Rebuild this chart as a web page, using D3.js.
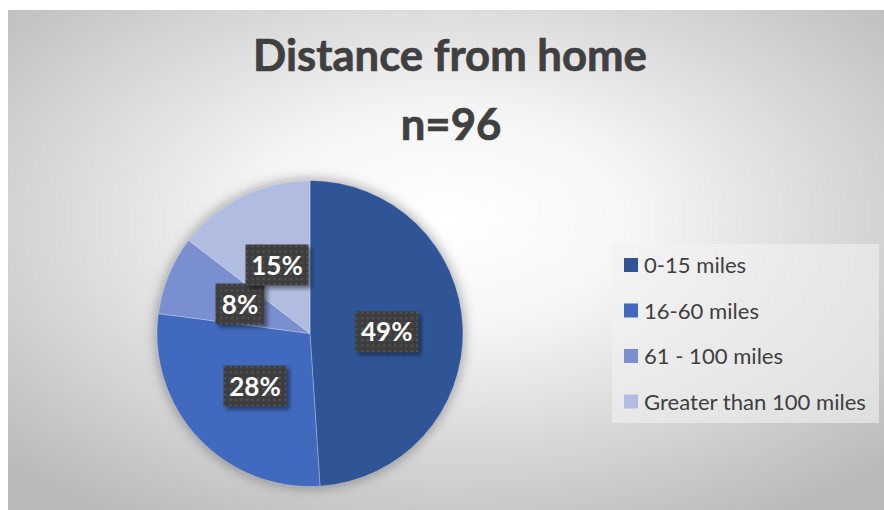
<!DOCTYPE html>
<html>
<head>
<meta charset="utf-8">
<script src="https://cdn.jsdelivr.net/npm/d3@7"></script>
<style>
  html, body { margin: 0; padding: 0; background: #ffffff; }
  svg { display: block; }
</style>
</head>
<body>
<svg id="chart" width="884" height="510"></svg>
<script>
// ---- data ----
const titleLines = ["Distance from home", "n=96"];
const categories = ["0-15 miles", "16-60 miles", "61 - 100 miles", "Greater than 100 miles"];
const counts = [47, 27, 8, 14];
const percentLabels = ["49%", "28%", "8%", "15%"];
const colors = ["#2F5597", "#4169BD", "#7A8FD0", "#B1BDE0"];

// ---- layout ----
const svg = d3.select("#chart");
const defs = svg.append("defs");
const FONT = "Lato, 'Open Sans', 'DejaVu Sans', sans-serif";
const TEXT = "#404040";

const bg = defs.append("radialGradient").attr("id", "bg")
  .attr("cx", 0.5).attr("cy", 0.42).attr("r", 0.7);
bg.append("stop").attr("offset", 0).attr("stop-color", "#ffffff");
bg.append("stop").attr("offset", 0.3).attr("stop-color", "#f6f6f6");
bg.append("stop").attr("offset", 1).attr("stop-color", "#bababa");

const pieShadow = defs.append("filter").attr("id", "pieShadow")
  .attr("x", -0.2).attr("y", -0.2).attr("width", 1.4).attr("height", 1.4);
pieShadow.append("feGaussianBlur").attr("stdDeviation", 6);

const lblShadow = defs.append("filter").attr("id", "lblShadow")
  .attr("x", -0.3).attr("y", -0.3).attr("width", 1.6).attr("height", 1.6);
lblShadow.append("feGaussianBlur").attr("in", "SourceAlpha").attr("stdDeviation", 2).attr("result", "b");
lblShadow.append("feOffset").attr("in", "b").attr("dx", 3).attr("dy", 3).attr("result", "o");
lblShadow.append("feComponentTransfer").attr("in", "o").attr("result", "s")
  .append("feFuncA").attr("type", "linear").attr("slope", 0.45);
const merge = lblShadow.append("feMerge");
merge.append("feMergeNode").attr("in", "s");
merge.append("feMergeNode").attr("in", "SourceGraphic");

const dots = defs.append("pattern").attr("id", "dots")
  .attr("patternUnits", "userSpaceOnUse").attr("width", 5.5).attr("height", 5.5);
dots.append("rect").attr("width", 5.5).attr("height", 5.5).attr("fill", "#3e3e3e");
dots.append("rect").attr("x", 2).attr("y", 2).attr("width", 2).attr("height", 2).attr("fill", "#565656");

// chart area
svg.append("rect").attr("x", 8).attr("y", 10).attr("width", 876).attr("height", 500)
  .attr("fill", "url(#bg)");

// title
function fitText(sel, target) {
  const w = sel.node().getComputedTextLength();
  const fs = parseFloat(sel.attr("font-size"));
  sel.attr("font-size", fs * target / w);
}
const t1 = svg.append("text").attr("x", 450).attr("y", 71).attr("text-anchor", "middle")
  .attr("font-family", FONT).attr("font-weight", "bold").attr("font-size", 40)
  .attr("fill", TEXT).attr("stroke", TEXT).attr("stroke-width", 0.7).text(titleLines[0]);
fitText(t1, 394);
const t2 = svg.append("text").attr("x", 451).attr("y", 140).attr("text-anchor", "middle")
  .attr("font-family", FONT).attr("font-weight", "bold").attr("font-size", t1.attr("font-size"))
  .attr("fill", TEXT).attr("stroke", TEXT).attr("stroke-width", 0.7).text(titleLines[1]);

// pie
const cx = 310, cy = 333.5, R = 153;
const pie = d3.pie().sort(null).value(d => d)(counts);
const arc = d3.arc().innerRadius(0).outerRadius(R);
const g = svg.append("g").attr("transform", `translate(${cx},${cy})`);
g.append("circle").attr("r", R + 2).attr("fill", "rgba(0,0,0,0.3)").attr("filter", "url(#pieShadow)");
g.selectAll("path.slice").data(pie).join("path").attr("class", "slice")
  .attr("d", arc).attr("fill", (d, i) => colors[i])
  .attr("stroke", "rgba(255,255,255,0.35)").attr("stroke-width", 0.8);

// data labels
const labelPos = [[386.7, 331.7], [255, 386], [240, 304], [277, 265]];
const boxW = [63, 63, 49, 63], boxH = 41;
const lg = svg.append("g");
pie.forEach((d, i) => {
  const [x, y] = labelPos[i];
  const gi = lg.append("g").attr("transform", `translate(${x},${y})`);
  gi.append("rect").attr("x", -boxW[i] / 2).attr("y", -boxH / 2)
    .attr("width", boxW[i]).attr("height", boxH).attr("fill", "url(#dots)")
    .attr("filter", "url(#lblShadow)");
  gi.append("text").attr("x", 0).attr("y", 9.5).attr("text-anchor", "middle")
    .attr("font-family", FONT).attr("font-weight", "bold").attr("font-size", 26)
    .attr("fill", "#ffffff").text(percentLabels[i]);
});

// legend
const legG = svg.append("g");
legG.append("rect").attr("x", 612).attr("y", 244).attr("width", 267).attr("height", 179)
  .attr("fill", "#f2f2f2").attr("fill-opacity", 0.6);
const rowY = d3.scalePoint().domain(categories).range([265, 401.5]);
categories.forEach((c, i) => {
  const y = rowY(c);
  legG.append("rect").attr("x", 624).attr("y", y - 7).attr("width", 14).attr("height", 14)
    .attr("fill", colors[i]);
  legG.append("text").attr("class", "legtext").attr("x", 644).attr("y", y + 8)
    .attr("font-family", FONT).attr("font-size", 21).attr("fill", TEXT).text(c);
});
const lt = legG.selectAll("text.legtext");
const longest = lt.filter((d, i) => i === 3);
const w = longest.node().getComputedTextLength();
lt.attr("font-size", 21 * 222 / w);
</script>
</body>
</html>
